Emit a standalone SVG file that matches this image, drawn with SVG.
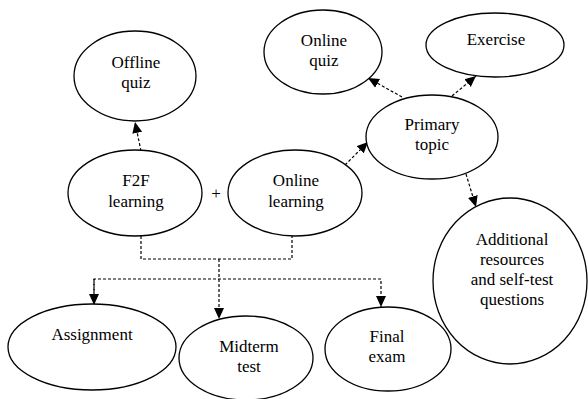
<svg xmlns="http://www.w3.org/2000/svg" width="588" height="399" viewBox="0 0 588 399">
<style>
ellipse{fill:#fff;stroke:#000;stroke-width:1.3}
text{font-family:"Liberation Serif","Times New Roman",serif;font-size:17px;text-anchor:middle;fill:#000}
.c{fill:none;stroke:#000;stroke-width:1.2;stroke-dasharray:3,2}
</style>
<defs>
<marker id="ah" viewBox="0 0 11 11" refX="11" refY="5.5" markerWidth="11" markerHeight="11" markerUnits="userSpaceOnUse" orient="auto">
<path d="M0,0.5 L11,5.5 L0,10.5 Z" fill="#000"/>
</marker>
</defs>
<rect width="588" height="399" fill="#fff"/>
<g id="connectors">
<path class="c" d="M141,151 L135,122" marker-end="url(#ah)"/>
<path class="c" d="M141,236 V259 H292 V236"/>
<path class="c" d="M219,259 V319" marker-end="url(#ah)"/>
<path class="c" d="M94,305 V279 H381 V307" marker-end="url(#ah)"/>
<path class="c" d="M94,279 V305" marker-end="url(#ah)"/>
<path class="c" d="M345,165 L368,142" marker-end="url(#ah)"/>
<path class="c" d="M402,97 L368,78" marker-end="url(#ah)"/>
<path class="c" d="M452,96 L476,76" marker-end="url(#ah)"/>
<path class="c" d="M466,174 L476,207" marker-end="url(#ah)"/>
</g>
<g id="offline-quiz"><ellipse cx="135" cy="76" rx="61" ry="45"/><text x="136" y="68">Offline</text><text x="136" y="88">quiz</text></g>
<g id="f2f-learning"><ellipse cx="135" cy="193" rx="67" ry="43"/><text x="136" y="186">F2F</text><text x="136" y="207">learning</text></g>
<text x="216" y="199">+</text>
<g id="online-learning"><ellipse cx="295" cy="193" rx="67" ry="43"/><text x="296" y="186">Online</text><text x="296" y="207">learning</text></g>
<g id="online-quiz"><ellipse cx="323" cy="52" rx="59" ry="42"/><text x="324" y="46">Online</text><text x="324" y="66">quiz</text></g>
<g id="exercise"><ellipse cx="495" cy="45" rx="69" ry="32"/><text x="496" y="45">Exercise</text></g>
<g id="primary-topic"><ellipse cx="432" cy="137" rx="66" ry="42"/><text x="432" y="130">Primary</text><text x="432" y="150">topic</text></g>
<g id="additional"><ellipse cx="510" cy="281" rx="77" ry="83"/><text x="512" y="245">Additional</text><text x="512" y="265">resources</text><text x="512" y="285">and self-test</text><text x="512" y="305">questions</text></g>
<g id="assignment"><ellipse cx="92" cy="347" rx="84" ry="43"/><text x="92" y="340">Assignment</text></g>
<g id="midterm-test"><ellipse cx="246" cy="358" rx="67" ry="42"/><text x="249" y="352">Midterm</text><text x="249" y="372">test</text></g>
<g id="final-exam"><ellipse cx="388" cy="349" rx="63" ry="42"/><text x="387" y="342">Final</text><text x="387" y="362">exam</text></g>
</svg>
